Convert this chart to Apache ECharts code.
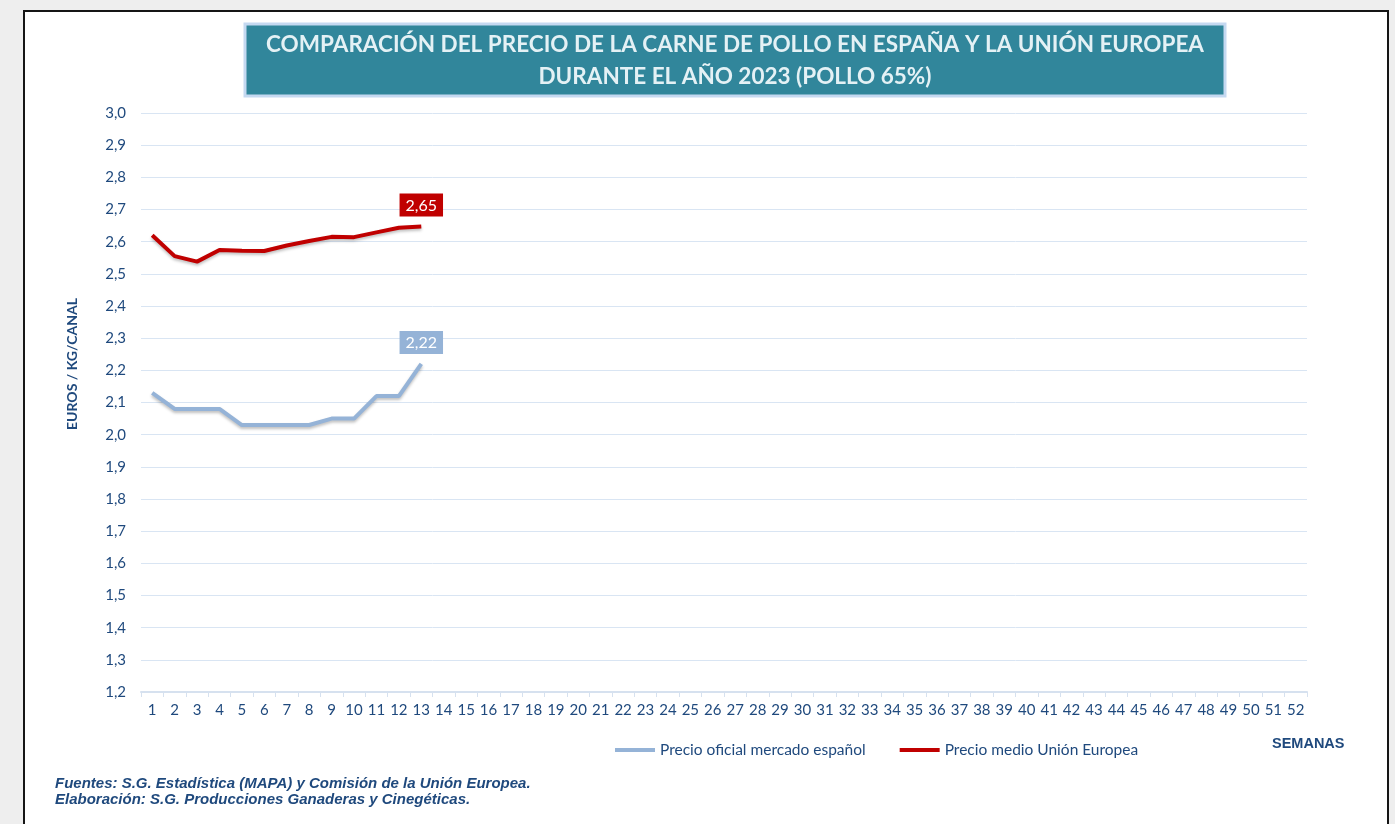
<!DOCTYPE html>
<html>
<head>
<meta charset="utf-8">
<script src="https://cdn.jsdelivr.net/npm/echarts@6/dist/echarts.min.js"></script>
<style>
  html, body { margin: 0; padding: 0; background: #eeeeee; }
  .frame {
    position: absolute; left: 23px; top: 10px; width: 1362px; height: 830px;
    background: #fff; border: 2px solid #151515;
  }
  #chart { position: absolute; left: 0; top: 0; width: 1395px; height: 824px; }
</style>
</head>
<body>
<div class="frame"></div>
<div id="chart"></div>
<script>
// semanas 1..52
const weeks = Array.from({ length: 52 }, (_, i) => String(i + 1))
// precio oficial mercado español (euros/kg canal)
const spainPrice = [2.13, 2.08, 2.08, 2.08, 2.03, 2.03, 2.03, 2.03, 2.05, 2.05, 2.12, 2.12, 2.22]
// precio medio Unión Europea
const euPrice = [2.62, 2.555, 2.538, 2.574, 2.572, 2.571, 2.588, 2.602, 2.615, 2.614, 2.629, 2.643, 2.647]

const seriesNames = ['Precio oficial mercado español', 'Precio medio Unión Europea']
const BLUE = '#95b3d7'
const RED = '#c00000'
const TEXT = '#1f497d'

const fmt = v => v.toFixed(2).replace('.', ',')

const withLastLabel = (arr, bg) => arr.map((v, i) => {
  if (i !== arr.length - 1) return v
  return {
    value: v,
    label: {
      show: true,
      position: 'top',
      distance: 10,
      formatter: p => fmt(p.value),
      backgroundColor: bg,
      color: '#fff',
      fontFamily: 'Lato',
      fontSize: 16,
      padding: [4, 6, 3, 6]
    }
  }
})

const chart = echarts.init(document.getElementById('chart'))

chart.setOption({
  animation: false,
  grid: { left: 141, right: 88, top: 113, bottom: 132 },
  legend: {
    data: seriesNames,
    left: 610,
    top: 737,
    icon: 'rect',
    itemWidth: 40,
    itemHeight: 4,
    itemGap: 34,
    textStyle: { color: TEXT, fontFamily: 'Lato', fontSize: 15.5 }
  },
  xAxis: {
    type: 'category',
    data: weeks,
    boundaryGap: true,
    axisLine: { lineStyle: { color: '#d6e1ef', width: 2 } },
    axisTick: { show: true, length: 5, lineStyle: { color: '#d6e1ef' } },
    axisLabel: { color: TEXT, fontFamily: 'Lato', fontSize: 15, interval: 0, margin: 11 }
  },
  yAxis: {
    type: 'value',
    min: 1.2,
    max: 3.0,
    interval: 0.1,
    axisLine: { show: false },
    axisTick: { show: false },
    splitLine: { lineStyle: { color: '#d9e5f3', width: 1 } },
    axisLabel: {
      color: TEXT, fontFamily: 'Lato', fontSize: 15, margin: 15,
      formatter: v => v.toFixed(1).replace('.', ',')
    }
  },
  graphic: [
    {
      type: 'rect',
      shape: { x: 245, y: 24, width: 980, height: 72 },
      style: { fill: '#31869b', stroke: '#c5d9f1', lineWidth: 3 }
    },
    {
      type: 'text',
      x: 735, y: 61,
      style: {
        text: 'COMPARACIÓN DEL PRECIO DE LA CARNE DE POLLO EN ESPAÑA Y LA UNIÓN EUROPEA\nDURANTE EL AÑO 2023 (POLLO 65%)',
        fill: '#e4f1f5',
        font: 'bold 22.5px Lato',
        lineHeight: 32,
        align: 'center',
        verticalAlign: 'middle'
      }
    },
    {
      type: 'text',
      x: 72, y: 364,
      rotation: Math.PI / 2,
      style: {
        text: 'EUROS / KG/CANAL',
        fill: TEXT,
        font: 'bold 14px Lato',
        align: 'center',
        verticalAlign: 'middle'
      }
    },
    {
      type: 'text',
      x: 1272, y: 736,
      style: { text: 'SEMANAS', fill: TEXT, font: 'bold 14.5px "Liberation Sans"' }
    },
    {
      type: 'text',
      x: 55, y: 776,
      style: {
        text: 'Fuentes: S.G. Estadística (MAPA) y Comisión de la Unión Europea.\nElaboración: S.G. Producciones Ganaderas y Cinegéticas.',
        fill: TEXT,
        font: 'italic bold 15px "Liberation Sans"',
        lineHeight: 16
      }
    }
  ],
  series: [
    {
      name: seriesNames[0],
      type: 'line',
      showSymbol: true,
      symbol: 'circle',
      symbolSize: 0,
      color: BLUE,
      lineStyle: { width: 4, color: BLUE, shadowColor: 'rgba(0,0,0,0.25)', shadowBlur: 3, shadowOffsetY: 2 },
      data: withLastLabel(spainPrice, BLUE)
    },
    {
      name: seriesNames[1],
      type: 'line',
      showSymbol: true,
      symbol: 'circle',
      symbolSize: 0,
      color: RED,
      lineStyle: { width: 4, color: RED, shadowColor: 'rgba(0,0,0,0.25)', shadowBlur: 3, shadowOffsetY: 2 },
      data: withLastLabel(euPrice, RED)
    }
  ]
})
</script>
</body>
</html>
